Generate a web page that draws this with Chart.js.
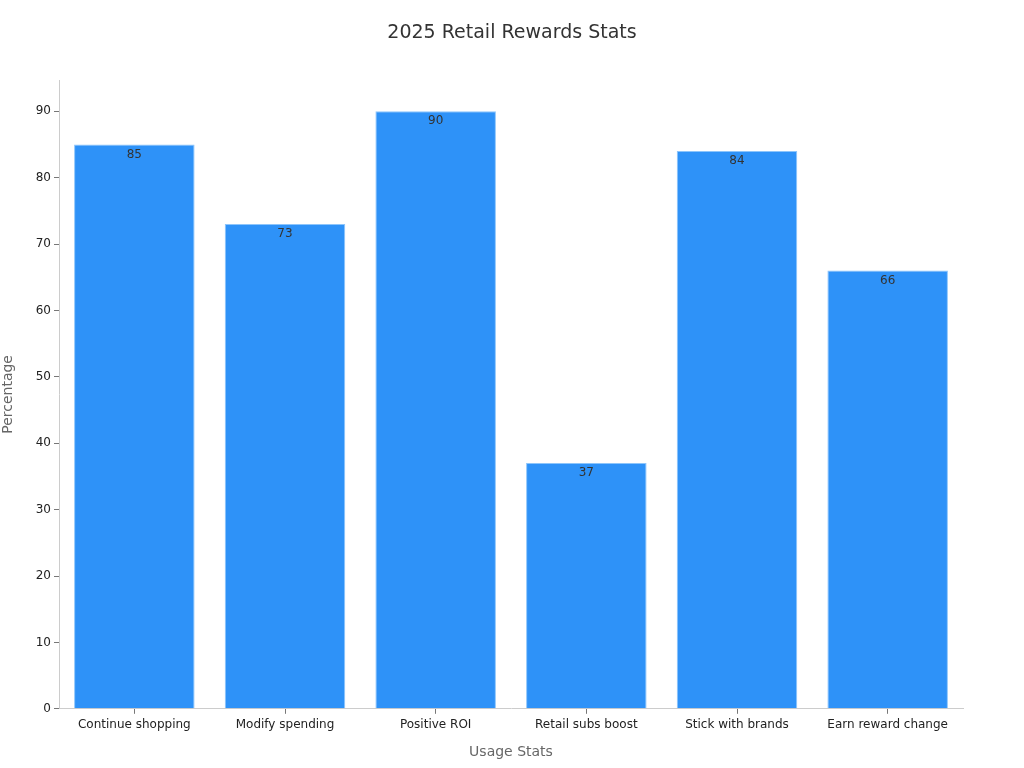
<!DOCTYPE html>
<html>
<head>
<meta charset="utf-8">
<script src="https://cdn.jsdelivr.net/npm/chart.js@4"></script>
<style>
  html, body { margin: 0; padding: 0; background: #fff; }
  #wrap { width: 1024px; height: 768px; }
</style>
</head>
<body>
<div id="wrap"><canvas id="retailChart" width="1024" height="768"></canvas></div>
<script>
// Chart data
const categories = [
  "Continue shopping",
  "Modify spending",
  "Positive ROI",
  "Retail subs boost",
  "Stick with brands",
  "Earn reward change",
];
const percentages = [85, 73, 90, 37, 84, 66];
const yTickValues = [0, 10, 20, 30, 40, 50, 60, 70, 80, 90];
const chartTitle = "2025 Retail Rewards Stats";

// Title centred on the whole canvas (not just the plot area)
const canvasTitle = {
  id: "canvasTitle",
  afterDraw(chart) {
    const ctx = chart.ctx;
    ctx.save();
    ctx.font = "19px 'DejaVu Sans'";
    ctx.fillStyle = "#333333";
    ctx.textAlign = "center";
    ctx.textBaseline = "middle";
    ctx.fillText(chartTitle, chart.width / 2, 33);
    ctx.restore();
  },
};

// Draw value labels just inside the top of each bar
const valueLabels = {
  id: "valueLabels",
  afterDatasetsDraw(chart) {
    const ctx = chart.ctx;
    const meta = chart.getDatasetMeta(0);
    ctx.save();
    ctx.font = "12px 'DejaVu Sans'";
    ctx.fillStyle = "#333333";
    ctx.textAlign = "center";
    ctx.textBaseline = "top";
    meta.data.forEach((bar, i) => {
      ctx.fillText(String(percentages[i]), bar.x, bar.y + 4);
    });
    ctx.restore();
  },
};

const ctx = document.getElementById("retailChart").getContext("2d");
new Chart(ctx, {
  type: "bar",
  data: {
    labels: categories,
    datasets: [
      {
        label: "Percentage",
        data: percentages,
        backgroundColor: "#2E92F8",
        borderColor: "#8DC5FB",
        borderWidth: 1,
        barPercentage: 0.8,
        categoryPercentage: 1,
      },
    ],
  },
  options: {
    responsive: false,
    animation: false,
    layout: {
      padding: { left: 0, right: 61, top: 80, bottom: 7 },
    },
    plugins: {
      legend: { display: false },
      tooltip: { enabled: false },
      title: { display: false },
    },
    scales: {
      x: {
        grid: {
          display: true,
          offset: false,
          drawOnChartArea: false,
          drawTicks: true,
          tickLength: 5,
          color: "#777777",
        },
        border: { display: true, color: "#cccccc" },
        ticks: {
          color: "#222222",
          font: { family: "'DejaVu Sans'", size: 12 },
          maxRotation: 0,
          padding: 4,
        },
        title: {
          display: true,
          text: "Usage Stats",
          color: "#666666",
          font: { family: "'DejaVu Sans'", size: 14 },
          padding: { top: 8, bottom: 0 },
        },
      },
      y: {
        min: 0,
        max: 94.7,
        afterBuildTicks(scale) {
          scale.ticks = yTickValues.map((v) => ({ value: v }));
        },
        afterFit(scale) {
          scale.width = 59;
        },
        grid: {
          display: true,
          drawOnChartArea: false,
          drawTicks: true,
          tickLength: 5,
          color: "#777777",
        },
        border: { display: true, color: "#cccccc" },
        ticks: {
          color: "#222222",
          font: { family: "'DejaVu Sans'", size: 12 },
          padding: 3,
        },
        title: {
          display: true,
          text: "Percentage",
          color: "#666666",
          font: { family: "'DejaVu Sans'", size: 14 },
          padding: { top: 0, bottom: 4 },
        },
      },
    },
  },
  plugins: [valueLabels, canvasTitle],
});
</script>
</body>
</html>
